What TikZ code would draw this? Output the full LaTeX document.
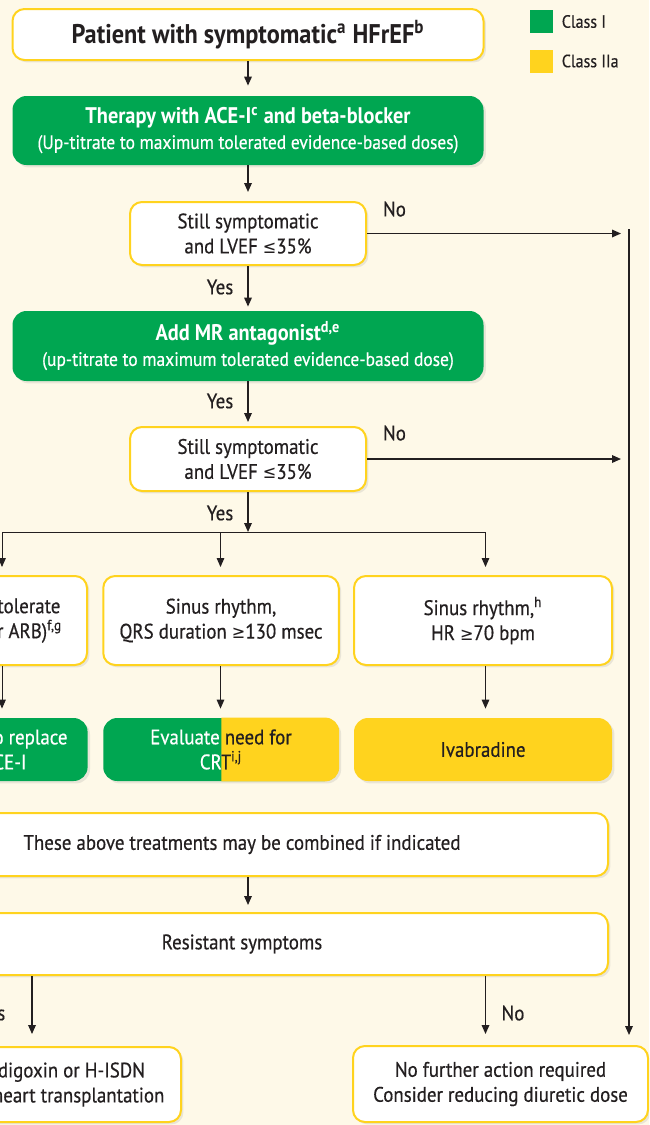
\documentclass[tikz,border=0pt]{standalone}
\usepackage{fontspec}
\setmainfont{PT Sans}[FakeStretch=0.9, UprightFeatures={FakeBold=0.5}]
\newfontfamily\symf{DejaVu Sans}[FakeStretch=0.9,Scale=0.85]
\usetikzlibrary{arrows.meta, positioning, shadows}
\definecolor{escGreen}{HTML}{00A651}
\definecolor{escYellow}{HTML}{FFD31E}
\definecolor{escCream}{HTML}{FEF9E8}
\definecolor{escInk}{HTML}{231F20}
\newcommand{\lte}{{\symf ≤}}
\newcommand{\gte}{{\symf ≥}}

\begin{document}
\begin{tikzpicture}[
  x=0.5pt, y=-0.5pt,
  font=\fontsize{10.5}{12.5}\selectfont, text=escInk,
  base/.style={rectangle, align=center, inner sep=0pt, drop shadow={opacity=0.16, shadow xshift=1.2pt, shadow yshift=-1.2pt}},
  qbox/.style={base, draw=escYellow, line width=1pt, fill=white, rounded corners=6pt},
  gbox/.style={base, fill=escGreen, text=white, rounded corners=7pt},
  ybox/.style={base, fill=escYellow, rounded corners=7pt},
  arrow/.style={-{Triangle[length=4.5pt, width=3.8pt]}, line width=0.7pt, draw=escInk},
  branch/.style={line width=0.5pt, draw=escInk},
  legbox/.style={minimum size=11.5pt, inner sep=0pt},
  legtext/.style={font=\fontsize{8.9}{10}\selectfont, inner sep=0pt},
]
\useasboundingbox (0,0) rectangle (649,1125);
\clip (0,0) rectangle (649,1125);
\fill[escCream] (0,0) rectangle (649,1125);

% Legend
\node[legbox, fill=escGreen] (legI) at (541.5,21.5) {};
\node[legtext, right=4pt of legI] (legItxt) {Class I};
\node[legbox, fill=escYellow] (legIIa) at (541.5,61) {};
\node[legtext, right=4pt of legIIa] (legIIatxt) {Class IIa};

% Main column
\node[qbox, minimum width=235.5pt, minimum height=25.5pt, font=\fontsize{13.5}{15}\selectfont\bfseries] (patient) at (248,34.5) {Patient with symptomatic\textsuperscript{a} HFrEF\textsuperscript{b}};
\node[gbox, minimum width=235.5pt, minimum height=34.5pt] (therapy) at (248,130.5) {{\fontsize{11.3}{12.5}\selectfont\bfseries Therapy with ACE-I\textsuperscript{c} and beta-blocker}\\{\fontsize{9.7}{12.5}\selectfont(Up-titrate to maximum tolerated evidence-based doses)}};
\node[qbox, minimum width=118pt, minimum height=31.5pt] (still1) at (248,233.5) {Still symptomatic\\and LVEF \lte35\%};
\node[gbox, minimum width=235.5pt, minimum height=35pt] (mra) at (248,346) {{\fontsize{11.3}{12.5}\selectfont\bfseries Add MR antagonist\textsuperscript{d,e}}\\{\fontsize{9.7}{12.5}\selectfont(up-titrate to maximum tolerated evidence-based dose)}};
\node[qbox, minimum width=118pt, minimum height=32pt] (still2) at (248,459) {Still symptomatic\\and LVEF \lte35\%};

% Row of conditions
\node[qbox, anchor=east, minimum width=89.5pt, minimum height=44.5pt] (tolerate) at (88,620.5) {Able to tolerate\\ACE-I (or ARB)\textsuperscript{f,g}};
\node[qbox, minimum width=117.75pt, minimum height=44.5pt] (qrs) at (221,620.5) {Sinus rhythm,\\QRS duration \gte130 msec};
\node[qbox, minimum width=129pt, minimum height=44.5pt] (sinus) at (483,620.5) {Sinus rhythm,\textsuperscript{h}\\HR \gte70 bpm};

% Row of treatments
\node[gbox, anchor=east, minimum width=83pt, minimum height=31.5pt] (arni) at (88,749.5) {ARNI to replace\\ACE-I};
\node[gbox, minimum width=117.75pt, minimum height=31.5pt] (crt) at (221,749.5) {};
\begin{scope}
  \clip (221.4,700) rectangle (400,800);
  \fill[escYellow, rounded corners=7pt] (crt.south west) rectangle (crt.north east);
\end{scope}
\begin{scope}
  \clip (90,700) rectangle (221.4,800);
  \node[align=center, text=white] (crtL) at (crt.center) {Evaluate need for\\CRT\textsuperscript{i,j}};
\end{scope}
\begin{scope}
  \clip (221.4,700) rectangle (400,800);
  \node[align=center] (crtR) at (crt.center) {Evaluate need for\\CRT\textsuperscript{i,j}};
\end{scope}
\node[ybox, minimum width=129pt, minimum height=31.5pt] (ivab) at (483,749.5) {Ivabradine};

% Wide boxes
\node[qbox, anchor=east, minimum width=366pt, minimum height=31.5pt] (combined) at (609,844.5) {These above treatments may be combined if indicated};
\node[qbox, anchor=east, minimum width=366pt, minimum height=31pt] (resistant) at (609,944) {Resistant symptoms};

% Outcomes
\node[qbox, anchor=east, minimum width=147pt, minimum height=37.5pt] (digoxin) at (182,1084.5) {Consider digoxin or H-ISDN\\or LVAD or heart transplantation};
\node[qbox, minimum width=147.5pt, minimum height=38pt] (nofurther) at (500.5,1084) {No further action required\\Consider reducing diuretic dose};

% Labels
\node (no1) at (394.5,209) {No};
\node (no2) at (394.5,433) {No};
\node (yes1) at (220,287) {Yes};
\node (yes2) at (220,401) {Yes};
\node (yes3) at (220,513) {Yes};
\node (yes4) at (-8,1013) {Yes};
\node (no3) at (513,1013) {No};

% Coordinates
\coordinate (fork) at (248,532);
\coordinate (forkL) at (2,532);
\coordinate (forkM) at (220.5,532);
\coordinate (forkR) at (485.5,532);
\coordinate (noEnd1) at (621,233.5);
\coordinate (noEnd2) at (621,459);
\coordinate (railTop) at (629,229);
\coordinate (railBot) at (629,1035);
\coordinate (yesX) at (32,0);

% Arrows
\draw[arrow, shorten >=5pt] (patient) -- (therapy);
\draw[arrow, shorten >=4.5pt] (therapy) -- (still1);
\draw[arrow, shorten >=2pt] (still1) -- (mra);
\draw[arrow, shorten >=2pt] (mra) -- (still2);
\draw[arrow] (still2) -- (fork);
\draw[branch] (forkL) -- (forkR);
\draw[arrow, branch, shorten >=4pt] (forkL) -- (forkL |- tolerate.north);
\draw[arrow, branch, shorten >=4pt] (forkM) -- (forkM |- qrs.north);
\draw[arrow, branch, shorten >=4pt] (forkR) -- (forkR |- sinus.north);
\draw[arrow, branch, shorten >=4.5pt] (forkL |- tolerate.south) -- (forkL |- arni.north);
\draw[arrow, branch, shorten >=4.5pt] (forkM |- qrs.south) -- (forkM |- crt.north);
\draw[arrow, branch, shorten >=4.5pt] (forkR |- sinus.south) -- (forkR |- ivab.north);
\draw[arrow, shorten >=3.5pt] (fork |- combined.south) -- (fork |- resistant.north);
\draw[arrow, shorten >=6pt] (yesX |- resistant.south) -- (yesX |- digoxin.north);
\draw[arrow, shorten >=5.5pt] (forkR |- resistant.south) -- (forkR |- nofurther.north);
\draw[arrow] (still1.east) -- (noEnd1);
\draw[arrow] (still2.east) -- (noEnd2);
\draw[arrow] (railTop) -- (railBot);

\end{tikzpicture}
\end{document}
